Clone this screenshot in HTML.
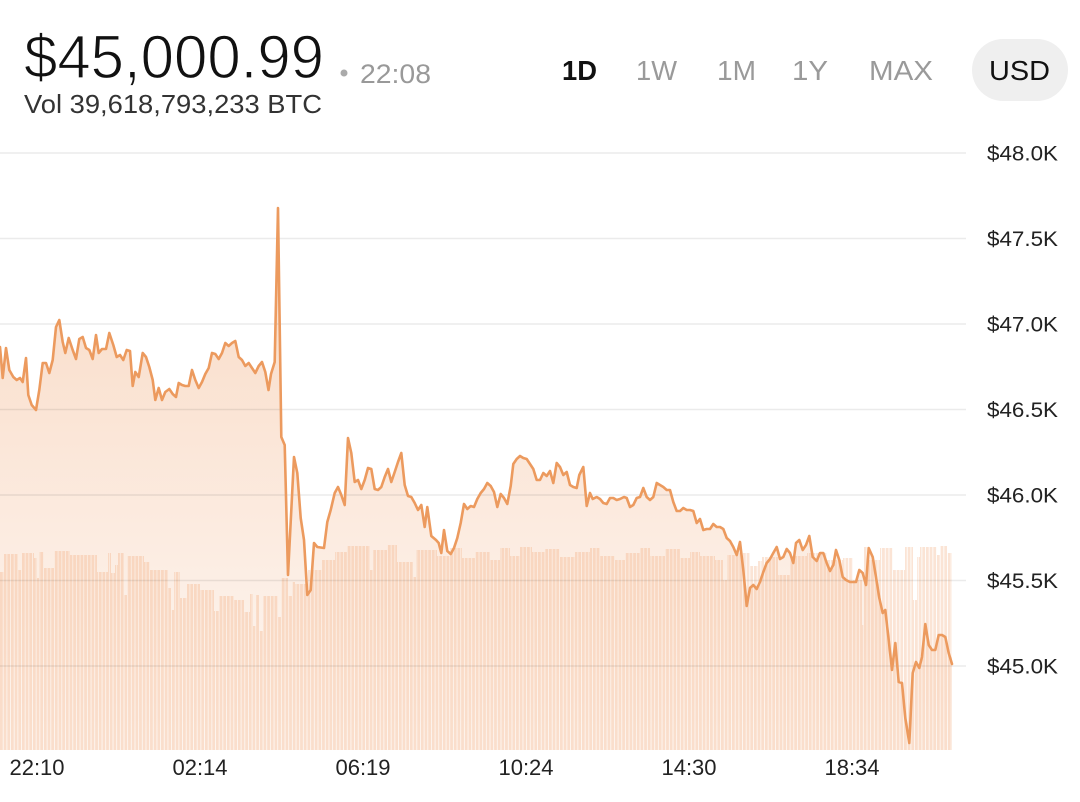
<!DOCTYPE html>
<html>
<head>
<meta charset="utf-8">
<style>
  html,body{margin:0;padding:0;background:#fff;}
  body{width:1080px;height:802px;overflow:hidden;}
  svg{display:block;font-family:"Liberation Sans",Arial,sans-serif;}
</style>
</head>
<body>
<svg width="1080" height="802" viewBox="0 0 1080 802" xmlns="http://www.w3.org/2000/svg">
  <defs>
    <linearGradient id="fillg" x1="0" y1="208" x2="0" y2="750" gradientUnits="userSpaceOnUse">
      <stop offset="0" stop-color="rgb(238,150,90)" stop-opacity="0.36"/>
      <stop offset="1" stop-color="rgb(238,150,90)" stop-opacity="0.07"/>
    </linearGradient>
    <pattern id="bars" x="0" y="0" width="3.66" height="802" patternUnits="userSpaceOnUse">
      <rect x="0" y="0" width="2.8" height="802" fill="rgb(240,155,100)" fill-opacity="0.27"/>
    </pattern>
  </defs>

  <!-- Header -->
  <text x="24" y="78" font-size="61" fill="#111" stroke="#fff" stroke-width="1.2" textLength="300" lengthAdjust="spacingAndGlyphs">$45,000.99</text>
  <circle cx="344" cy="73" r="3.5" fill="#aaa"/>
  <text x="360" y="83" font-size="27" fill="#999" textLength="71" lengthAdjust="spacingAndGlyphs">22:08</text>
  <text x="24" y="113" font-size="26" fill="#333" textLength="298" lengthAdjust="spacingAndGlyphs">Vol 39,618,793,233 BTC</text>

  <text x="562" y="80" font-size="28" font-weight="bold" fill="#111" textLength="35" lengthAdjust="spacingAndGlyphs">1D</text>
  <text x="636" y="80" font-size="28" fill="#9a9a9a" textLength="41" lengthAdjust="spacingAndGlyphs">1W</text>
  <text x="717" y="80" font-size="28" fill="#9a9a9a" textLength="39" lengthAdjust="spacingAndGlyphs">1M</text>
  <text x="792" y="80" font-size="28" fill="#9a9a9a" textLength="36" lengthAdjust="spacingAndGlyphs">1Y</text>
  <text x="869" y="80" font-size="28" fill="#9a9a9a" textLength="64" lengthAdjust="spacingAndGlyphs">MAX</text>
  <rect x="972" y="39" width="96" height="62" rx="31" ry="31" fill="#efefef"/>
  <text x="989" y="80" font-size="28" fill="#111" textLength="61" lengthAdjust="spacingAndGlyphs">USD</text>

  <!-- Volume bars -->
  <polygon fill="url(#bars)" points="0,750 0,572 4,572 4,554 18,554 18,570 22,570 22,553 34,553 34,558 37,558 37,578 39,578 39,552 44,552 44,568 54,568 54,551 70,551 70,555 97,555 97,572 108,572 108,553 111,553 111,573 115,573 115,565 118,565 118,553 124,553 124,595 127,595 127,556 144,556 144,562 150,562 150,570 168,570 168,588 171,588 171,610 174,610 174,572 180,572 180,598 187,598 187,584 200,584 200,590 214,590 214,611 219,611 219,596 234,596 234,600 244,600 244,612 250,612 250,594 253,594 253,626 256,626 256,595 259,595 259,631 263,631 263,596 278,596 278,617 281,617 281,578 288,578 288,596 292,596 292,582 295,582 295,584 308,584 308,570 322,570 322,560 335,560 335,552 347,552 347,546 370,546 370,570 373,570 373,550 387,550 387,545 397,545 397,562 413,562 413,577 416,577 416,550 437,550 437,556 450,556 450,548 462,548 462,558 475,558 475,552 490,552 490,560 500,560 500,548 510,548 510,556 520,556 520,547 532,547 532,552 545,552 545,549 560,549 560,557 575,557 575,552 590,552 590,548 600,548 600,556 615,556 615,560 625,560 625,553 640,553 640,548 650,548 650,556 665,556 665,549 680,549 680,558 690,558 690,552 700,552 700,556 715,556 715,560 723,560 723,580 727,580 727,555 737,555 737,553 750,553 750,566 758,566 758,561 762,561 762,557 778,557 778,575 790,575 790,556 807,556 807,553 827,553 827,560 843,560 843,558 853,558 853,580 862,580 862,625 864,625 864,547 868,547 868,560 880,560 880,548 893,548 893,570 905,570 905,547 913,547 913,600 917,600 917,557 920,557 920,547 937,547 937,555 940,555 940,546 947,546 947,553 952,553 952,750"/>

  <!-- Area fill -->
  <polygon fill="url(#fillg)" points="0,750 0,347 2.7,378 6,348 9.3,370 13.3,377 16.7,380 20,378 22.7,382 26,358 28.3,395 31.7,405 36,410 39.3,390 42.7,363 46,363 49.3,373 52.7,360 56,327 59.3,320 62.7,342 65.3,353 68.7,338 72.7,350 76,359 79.3,339 82.7,337 86,348 89.3,350 92.7,359 96,335 98.7,353 102,349 106,349 109.3,333 113.3,345 116.7,357 120,355 123.3,360 126.7,350 130,351 132.7,386 135.3,372 138.7,377 142.7,353 146,357 149.3,367 152.7,380 155.3,400 158.7,388 162,400 165.3,392 169.3,389 172.7,394 176,397 178.7,383 182,385 185.3,386 188.7,386 192,370 195.3,380 198.7,388 202,382 205.3,374 208.7,368 212,353 215.3,354 218.7,359 222,353 225.3,343 228.7,346 232,343 235.3,341 238.7,357 242,360 245.3,366 248.7,363 252,368 255.3,373 258.7,366 262,362 265.3,372 268.5,390 271,374 274.7,362 278,208 281.3,437 284.7,445 288,575 294,457 297.3,473 300.7,518 304,540 307.3,595 310.7,590 314,543 317.3,547 324,548 327.3,522 330.7,510 334.7,493 338,487 341.3,495 344.7,505 348,438 351.3,453 354.7,482 358,480 361.3,489 364.7,480 368,468 371.3,469 374.7,489 378,490 381.3,487 384.7,477 388,469 391.3,482 394.7,472 398,462 401.3,453 404.7,485 408,496 411.3,497 414.7,503 418,510 421.3,505 424.7,527 427.3,507 431.3,536 436,540 438.7,543 441.3,553 444,530 447.3,551 450.7,554 454,548 457.3,538 460.7,523 464,504 467.3,509 470.7,506 474,507 477.3,499 480.7,493 484,489 487.3,483 490.7,486 494,492 497.3,507 500.7,494 504,498 507.3,504 510.7,486 513.3,464 516.7,459 520,456 523.3,458 526.7,459 530,464 533.3,469 536.7,480 540,480 543.3,473 546.7,476 550,471 553.3,483 556.7,463 560,467 563.3,475 566.7,472 570,485 573.3,487 576.7,488 579.3,475 583.3,467 586.7,506 590,493 592.7,499 596.7,497 600,499 603.3,503 606.7,504 610,498 613.3,498 616.7,500 620,499 624,497 626.7,498 630,507 633.3,505 636.7,498 640,497 643.3,488 646.7,497 650,500 653.3,497 656.7,483 660,485 663.3,487 666.7,490 670,490 673.3,502 676.7,511 680,511 683.3,508 686.7,510 690,510 693.3,511 696.7,523 700,519 703.3,530 706.7,529 710,529 713.3,524 716.7,527 720,527 723.3,529 726.7,538 730,541 733.3,547 736.7,555 740,542 743.3,570 746.7,606 750,588 753.3,585 756.7,589 760,582 763.3,572 766.7,563 770,559 773.3,553 776.7,547 780,559 783.3,557 786.7,549 790,553 793.3,563 796,543 799.3,540 802.7,550 806,545 809.3,536 812.7,557 816.7,561 820,553 823.3,553 826.7,563 830,571 833.3,565 836,550 839.3,560 842.7,577 846,580 850,582 853.3,582 856,582 859.3,570 862.7,573 866,585 868.7,548 872.7,557 876,577 879.3,598 882.7,613 885.3,610 888.7,640 892,670 895.3,643 898.7,682 902,683 905.3,718 909.3,743 912.7,673 916,662 919.3,668 922,657 925.3,624 928.7,645 932,650 935.3,650 938.7,635 942,635 945.3,637 948.7,653 952,664 952,750"/>

  <!-- Grid lines -->
  <g stroke="rgb(0,0,0)" stroke-opacity="0.08" stroke-width="1.5">
    <line x1="0" y1="153" x2="966" y2="153"/>
    <line x1="0" y1="238.5" x2="966" y2="238.5"/>
    <line x1="0" y1="324" x2="966" y2="324"/>
    <line x1="0" y1="409.5" x2="966" y2="409.5"/>
    <line x1="0" y1="495" x2="966" y2="495"/>
    <line x1="0" y1="580.5" x2="966" y2="580.5"/>
    <line x1="0" y1="666" x2="966" y2="666"/>
  </g>

  <!-- Price line -->
  <polyline fill="none" stroke="#ec9a5e" stroke-width="2.6" stroke-linejoin="round" stroke-linecap="round" points="0,347 2.7,378 6,348 9.3,370 13.3,377 16.7,380 20,378 22.7,382 26,358 28.3,395 31.7,405 36,410 39.3,390 42.7,363 46,363 49.3,373 52.7,360 56,327 59.3,320 62.7,342 65.3,353 68.7,338 72.7,350 76,359 79.3,339 82.7,337 86,348 89.3,350 92.7,359 96,335 98.7,353 102,349 106,349 109.3,333 113.3,345 116.7,357 120,355 123.3,360 126.7,350 130,351 132.7,386 135.3,372 138.7,377 142.7,353 146,357 149.3,367 152.7,380 155.3,400 158.7,388 162,400 165.3,392 169.3,389 172.7,394 176,397 178.7,383 182,385 185.3,386 188.7,386 192,370 195.3,380 198.7,388 202,382 205.3,374 208.7,368 212,353 215.3,354 218.7,359 222,353 225.3,343 228.7,346 232,343 235.3,341 238.7,357 242,360 245.3,366 248.7,363 252,368 255.3,373 258.7,366 262,362 265.3,372 268.5,390 271,374 274.7,362 278,208 281.3,437 284.7,445 288,575 294,457 297.3,473 300.7,518 304,540 307.3,595 310.7,590 314,543 317.3,547 324,548 327.3,522 330.7,510 334.7,493 338,487 341.3,495 344.7,505 348,438 351.3,453 354.7,482 358,480 361.3,489 364.7,480 368,468 371.3,469 374.7,489 378,490 381.3,487 384.7,477 388,469 391.3,482 394.7,472 398,462 401.3,453 404.7,485 408,496 411.3,497 414.7,503 418,510 421.3,505 424.7,527 427.3,507 431.3,536 436,540 438.7,543 441.3,553 444,530 447.3,551 450.7,554 454,548 457.3,538 460.7,523 464,504 467.3,509 470.7,506 474,507 477.3,499 480.7,493 484,489 487.3,483 490.7,486 494,492 497.3,507 500.7,494 504,498 507.3,504 510.7,486 513.3,464 516.7,459 520,456 523.3,458 526.7,459 530,464 533.3,469 536.7,480 540,480 543.3,473 546.7,476 550,471 553.3,483 556.7,463 560,467 563.3,475 566.7,472 570,485 573.3,487 576.7,488 579.3,475 583.3,467 586.7,506 590,493 592.7,499 596.7,497 600,499 603.3,503 606.7,504 610,498 613.3,498 616.7,500 620,499 624,497 626.7,498 630,507 633.3,505 636.7,498 640,497 643.3,488 646.7,497 650,500 653.3,497 656.7,483 660,485 663.3,487 666.7,490 670,490 673.3,502 676.7,511 680,511 683.3,508 686.7,510 690,510 693.3,511 696.7,523 700,519 703.3,530 706.7,529 710,529 713.3,524 716.7,527 720,527 723.3,529 726.7,538 730,541 733.3,547 736.7,555 740,542 743.3,570 746.7,606 750,588 753.3,585 756.7,589 760,582 763.3,572 766.7,563 770,559 773.3,553 776.7,547 780,559 783.3,557 786.7,549 790,553 793.3,563 796,543 799.3,540 802.7,550 806,545 809.3,536 812.7,557 816.7,561 820,553 823.3,553 826.7,563 830,571 833.3,565 836,550 839.3,560 842.7,577 846,580 850,582 853.3,582 856,582 859.3,570 862.7,573 866,585 868.7,548 872.7,557 876,577 879.3,598 882.7,613 885.3,610 888.7,640 892,670 895.3,643 898.7,682 902,683 905.3,718 909.3,743 912.7,673 916,662 919.3,668 922,657 925.3,624 928.7,645 932,650 935.3,650 938.7,635 942,635 945.3,637 948.7,653 952,664"/>

  <!-- Y axis labels -->
  <g font-size="21" fill="#222">
    <text x="987" y="160.5" textLength="71" lengthAdjust="spacingAndGlyphs">$48.0K</text>
    <text x="987" y="246" textLength="71" lengthAdjust="spacingAndGlyphs">$47.5K</text>
    <text x="987" y="331.5" textLength="71" lengthAdjust="spacingAndGlyphs">$47.0K</text>
    <text x="987" y="417" textLength="71" lengthAdjust="spacingAndGlyphs">$46.5K</text>
    <text x="987" y="502.5" textLength="71" lengthAdjust="spacingAndGlyphs">$46.0K</text>
    <text x="987" y="588" textLength="71" lengthAdjust="spacingAndGlyphs">$45.5K</text>
    <text x="987" y="673.5" textLength="71" lengthAdjust="spacingAndGlyphs">$45.0K</text>
  </g>

  <!-- X axis labels -->
  <g font-size="22" fill="#222" text-anchor="middle">
    <text x="37" y="775">22:10</text>
    <text x="200" y="775">02:14</text>
    <text x="363" y="775">06:19</text>
    <text x="526" y="775">10:24</text>
    <text x="689" y="775">14:30</text>
    <text x="852" y="775">18:34</text>
  </g>
</svg>
</body>
</html>
